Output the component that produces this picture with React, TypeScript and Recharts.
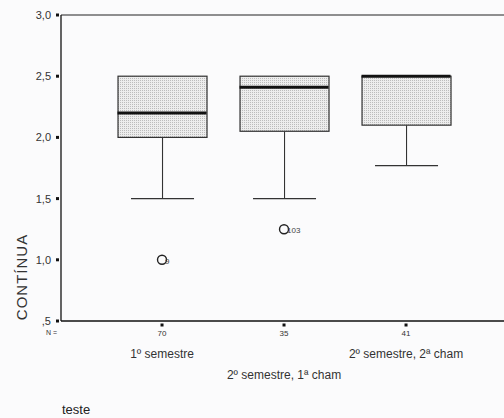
import React from "react"
import { ComposedChart, Bar, Scatter, XAxis, YAxis, ReferenceLine } from "recharts"

// categories and counts
const groups = ["1º semestre", "2º semestre, 1ª cham", "2º semestre, 2ª cham"]
const counts = [70, 35, 41]

// box stats per group
const whiskerLow = [1.5, 1.5, 1.77]
const q1 = [2.0, 2.05, 2.1]
const median = [2.2, 2.41, 2.5]
const q3 = [2.5, 2.5, 2.5]

// outliers
const outlierGroup = [1, 2]
const outlierValue = [1.0, 1.25]
const outlierCase = ["9", "103"]

const yTicks = [0.5, 1, 1.5, 2, 2.5, 3]

const boxData = groups.map((g, i) => ({
  pos: i + 1,
  name: g,
  n: counts[i],
  box: [q1[i], q3[i]],
  whisker: [whiskerLow[i], q1[i]],
  median: median[i],
}))

const outlierData = outlierGroup.map((g, i) => ({
  pos: g,
  value: outlierValue[i],
  label: outlierCase[i],
}))

const FONT = "Arial, 'Liberation Sans', sans-serif"
const BOX_W = 89
const CAP_W = 63

const fmt = (v: number) => {
  const s = v.toFixed(1).replace(".", ",")
  return s.startsWith("0") ? s.slice(1) : s
}

const BoxShape = (props: any) => {
  const { x, y, width, height } = props
  return (
    <rect x={x} y={y} width={width} height={height} fill="url(#stipple)" stroke="#333" strokeWidth={1.2} />
  )
}

const WhiskerShape = (props: any) => {
  const { x, y, width, height } = props
  const cx = x + width / 2
  const bottom = y + height
  return (
    <g>
      <line x1={cx} x2={cx} y1={y} y2={bottom} stroke="#333" strokeWidth={1.1} />
      <line x1={cx - CAP_W / 2} x2={cx + CAP_W / 2} y1={bottom} y2={bottom} stroke="#333" strokeWidth={1.3} />
    </g>
  )
}

const MedianShape = (props: any) => {
  const { cx, cy } = props
  return <line x1={cx - BOX_W / 2} x2={cx + BOX_W / 2} y1={cy} y2={cy} stroke="#111" strokeWidth={3} />
}

const OutlierShape = (props: any) => {
  const { cx, cy, payload } = props
  return (
    <g>
      <circle cx={cx} cy={cy} r={4.5} fill="none" stroke="#222" strokeWidth={1.4} />
      <text x={cx + 3} y={cy + 4} fontSize={8} fontFamily={FONT} fill="#444">
        {payload.label}
      </text>
    </g>
  )
}

const YTick = (props: any) => {
  const { x, y, payload } = props
  return (
    <g>
      <rect x={x + 3} y={y - 1.5} width={3} height={3} fill="#111" />
      <text x={x - 2} y={y + 4} textAnchor="end" fontSize={11} fontFamily={FONT} fill="#333">
        {fmt(payload.value)}
      </text>
    </g>
  )
}

const XTick = (props: any) => {
  const { x, y, payload, index } = props
  const d = boxData[index]
  const rowY = index % 2 === 1 ? y + 50 : y + 29
  return (
    <g>
      <rect x={x - 1.5} y={y - 5.5} width={3} height={3} fill="#111" />
      <text x={x} y={y + 7} textAnchor="middle" fontSize={8} fontFamily={FONT} fill="#333">
        {d ? d.n : ""}
      </text>
      <text x={x} y={rowY} textAnchor="middle" fontSize={12} fontFamily={FONT} fill="#333">
        {d ? d.name : payload.value}
      </text>
    </g>
  )
}

const XLabel = (props: any) => {
  const { viewBox } = props
  const { x, y } = viewBox
  return (
    <g>
      <text x={x - 4} y={y + 14} textAnchor="end" fontSize={7} fontFamily={FONT} fill="#333">N =</text>
      <text x={x + 1} y={y + 93} fontSize={13} fontFamily={FONT} fill="#222">teste</text>
    </g>
  )
}

const YLabel = () => {
  return (
    <text
      x={21}
      y={277}
      transform="rotate(-90 21 277)"
      textAnchor="middle"
      dominantBaseline="central"
      fontSize={15}
      letterSpacing={1}
      fontFamily={FONT}
      fill="#333"
    >
      CONTÍNUA
    </text>
  )
}

export default function App() {
  return (
    <div style={{ position: "fixed", left: 0, top: 0, width: 504, height: 418, background: "#fbfbfc" }}>
      <ComposedChart width={504} height={418} data={boxData} margin={{ top: 15, right: 0, bottom: 0, left: 0 }}>
        <defs>
          <pattern id="stipple" width={2} height={2} patternUnits="userSpaceOnUse">
            <rect width={2} height={2} fill="#ededed" />
            <rect width={1} height={1} fill="#bcbcbc" />
          </pattern>
        </defs>
        <XAxis
          xAxisId="a"
          dataKey="pos"
          type="number"
          domain={[0.172, 3.803]}
          ticks={[1, 2, 3]}
          height={97}
          axisLine={{ stroke: "#111", strokeWidth: 1.3 }}
          tickLine={false}
          tick={<XTick />}
          label={<XLabel />}
          interval={0}
        />
        <XAxis xAxisId="b" dataKey="pos" type="number" domain={[0.172, 3.803]} hide />
        <YAxis
          type="number"
          domain={[0.5, 3]}
          ticks={yTicks}
          width={61}
          axisLine={{ stroke: "#111", strokeWidth: 1.3 }}
          tickLine={false}
          tick={<YTick />}
          label={<YLabel />}
          interval={0}
        />
        <ReferenceLine xAxisId="a" y={3} stroke="#222" strokeWidth={1.2} />
        <Bar xAxisId="b" dataKey="whisker" barSize={BOX_W} shape={<WhiskerShape />} isAnimationActive={false} />
        <Bar xAxisId="a" dataKey="box" barSize={BOX_W} shape={<BoxShape />} isAnimationActive={false} />
        <Scatter xAxisId="a" dataKey="median" shape={<MedianShape />} isAnimationActive={false} />
        <Scatter xAxisId="a" data={outlierData} dataKey="value" shape={<OutlierShape />} isAnimationActive={false} />
      </ComposedChart>
    </div>
  )
}
